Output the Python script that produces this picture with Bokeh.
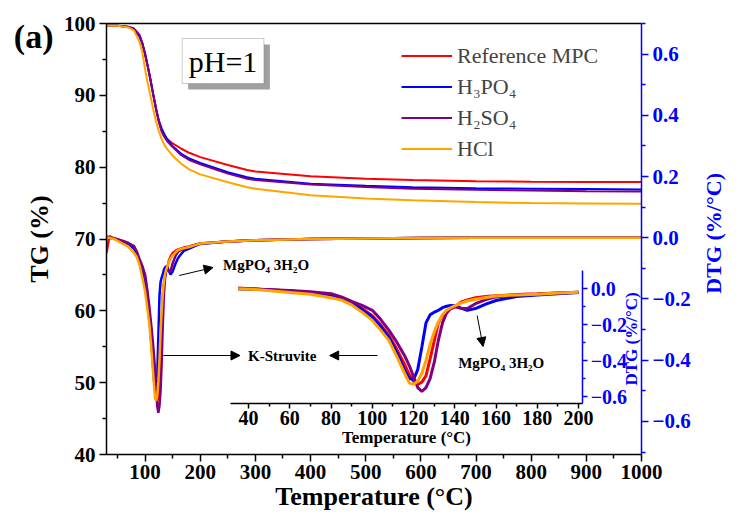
import math
from bokeh.plotting import figure
from bokeh.models import (Range1d, LinearAxis, FixedTicker, Legend, LegendItem, Label,
                          BoxAnnotation, Arrow, NormalHead, CustomJSTickFormatter)
from bokeh.embed import file_html
from bokeh.resources import INLINE

# ---------------- data ----------------
series_names = ["Reference MPC", "H\u2083PO\u2084", "H\u2082SO\u2084", "HCl"]
series_colors = ["#ff0000", "#0000ff", "#800080", "#ffa500"]

tg_temp = [30, 50, 70, 80, 90, 95, 100, 105, 110, 115, 120, 125, 130, 135, 140, 150, 165,
           180, 200, 250, 285, 300, 400, 500, 585, 700, 800, 900, 1000]
tg_ref = [99.7, 99.7, 99.5, 99.2, 98.2, 97.2, 95.8, 94.0, 92.1, 90.0, 88.0, 86.3, 85.0, 84.3,
          83.9, 83.3, 82.6, 82.0, 81.4, 80.3, 79.6, 79.4, 78.75, 78.4, 78.2, 78.05, 77.98, 77.95, 77.95]
tg_h3po4 = [99.7, 99.7, 99.5, 99.2, 98.2, 97.2, 95.8, 94.0, 92.1, 90.0, 88.0, 86.5, 85.4, 84.6,
            83.9, 82.9, 81.9, 81.2, 80.6, 79.3, 78.6, 78.4, 77.7, 77.4, 77.2, 77.05, 77.0, 76.95, 76.9]
tg_h2so4 = [99.7, 99.7, 99.55, 99.3, 98.4, 97.3, 95.6, 93.9, 92.0, 90.0, 88.2, 86.3, 85.0, 84.2,
            83.6, 82.8, 81.7, 81.0, 80.4, 79.1, 78.4, 78.2, 77.6, 77.25, 77.0, 76.85, 76.75, 76.65, 76.6]
tg_hcl = [99.7, 99.7, 99.45, 99.0, 97.4, 96.0, 93.6, 91.6, 89.8, 88.0, 86.3, 85.0, 83.9, 83.1,
          82.5, 81.6, 80.5, 79.7, 79.0, 77.9, 77.2, 77.0, 76.1, 75.65, 75.4, 75.15, 75.0, 74.95, 74.9]

dtg_temp = [30, 35, 45, 60, 70, 80, 85, 90, 95, 100,
            104, 108, 112, 116, 118, 120, 122, 124, 126, 128,
            130, 132, 134, 136, 138, 140, 143, 146, 150, 155,
            160, 170, 180, 190, 200, 250, 300, 400, 500, 600,
            700, 800, 900, 1000]
dtg_ref = [-0.05, 0.005, -0.003, -0.012, -0.02, -0.035, -0.05, -0.075, -0.11, -0.15,
           -0.20, -0.26, -0.34, -0.43, -0.48, -0.515, -0.532, -0.52, -0.485, -0.39,
           -0.29, -0.19, -0.15, -0.125, -0.11, -0.10, -0.075, -0.062, -0.05, -0.043,
           -0.038, -0.032, -0.028, -0.023, -0.019, -0.012, -0.008, -0.004, -0.002, -0.001,
           0.0, 0.0, 0.0, 0.0]
dtg_h3po4 = [0.0, 0.0, -0.003, -0.012, -0.02, -0.035, -0.05, -0.08, -0.115, -0.158,
             -0.21, -0.27, -0.36, -0.463, -0.50, -0.505, -0.45, -0.324, -0.19, -0.145,
             -0.13, -0.12, -0.105, -0.097, -0.093, -0.095, -0.108, -0.12, -0.11, -0.085,
             -0.065, -0.043, -0.035, -0.027, -0.02, -0.012, -0.008, -0.004, -0.002, -0.001,
             0.0, 0.0, 0.0, 0.0]
dtg_h2so4 = [0.005, 0.0, -0.002, -0.01, -0.017, -0.027, -0.045, -0.07, -0.092, -0.12,
             -0.17, -0.23, -0.30, -0.38, -0.43, -0.49, -0.55, -0.572, -0.55, -0.50,
             -0.41, -0.287, -0.19, -0.135, -0.11, -0.10, -0.108, -0.11, -0.083, -0.06,
             -0.045, -0.035, -0.03, -0.024, -0.019, -0.012, -0.008, -0.004, -0.002, -0.001,
             0.0, 0.0, 0.0, 0.0]
dtg_hcl = [0.0, 0.0, -0.005, -0.02, -0.03, -0.05, -0.063, -0.09, -0.13, -0.176,
           -0.23, -0.287, -0.38, -0.48, -0.525, -0.532, -0.515, -0.47, -0.40, -0.31,
           -0.24, -0.186, -0.145, -0.12, -0.105, -0.095, -0.08, -0.068, -0.058, -0.048,
           -0.04, -0.034, -0.03, -0.024, -0.019, -0.012, -0.008, -0.004, -0.002, -0.001,
           0.0, 0.0, 0.0, 0.0]

x_ticks = [100, 200, 300, 400, 500, 600, 700, 800, 900, 1000]
x_minor = [50, 150, 250, 350, 450, 550, 650, 750, 850, 950]
tg_ticks = [40, 50, 60, 70, 80, 90, 100]
tg_minor = [45, 55, 65, 75, 85, 95]
dtg_ticks = [-0.6, -0.4, -0.2, 0.0, 0.2, 0.4, 0.6]
dtg_minor = [-0.7, -0.5, -0.3, -0.1, 0.1, 0.3, 0.5, 0.7]
inset_x_ticks = [40, 60, 80, 100, 120, 140, 160, 180, 200]
inset_x_minor = [50, 70, 90, 110, 130, 150, 170, 190]
inset_y_ticks = [-0.6, -0.4, -0.2, 0.0]
inset_y_minor = [-0.5, -0.3, -0.1]

tg_series = [tg_ref, tg_h3po4, tg_h2so4, tg_hcl]
dtg_series = [dtg_ref, dtg_h3po4, dtg_h2so4, dtg_hcl]

# ---------------- layout (reference pixel geometry) ----------------
W, H = 741, 529
FL, FT, FR, FB = 106, 23, 643, 454          # frame edges (px)
X0, X1 = 30, 1000
Y0, Y1 = 40, 100
D0, D1 = -0.708, 0.70
D_ZERO_PX, D_PPU = 237, 306.7               # main DTG scale (px)

IN_L, IN_R = 230, 584                       # inset x-axis extent (px)
IX0, IX1 = 31, 202                          # inset x data at those px
IN_ZERO = 288.3                             # px of DTG 0 in inset
IN_PPU = 179.6                              # px per DTG unit in inset
IN_BOT_PX, IN_TOP = 403, 0.1

FONT = "Liberation Serif"


def mx(px):
    return X0 + (px - FL) * (X1 - X0) / (FR - FL)


def my(py):
    return Y1 - (py - FT) * (Y1 - Y0) / (FB - FT)


sx_in = (IN_R - IN_L) / (IX1 - IX0)
inx = Range1d(IX0 - (IN_L - FL) / sx_in, IX1 + (FR - IN_R) / sx_in)
iny = Range1d(-(FB - IN_ZERO) / IN_PPU, (IN_ZERO - FT) / IN_PPU)
IN_BOT = -(IN_BOT_PX - IN_ZERO) / IN_PPU

p = figure(width=W, height=H, x_range=Range1d(X0, X1), y_range=Range1d(Y0, Y1),
           output_backend="svg", toolbar_location=None,
           min_border_left=FL, min_border_top=FT,
           min_border_right=W - FR, min_border_bottom=H - FB)
p.extra_y_ranges = {"dtg": Range1d(D0, D1), "iny": iny}
p.extra_x_ranges = {"inx": inx}
p.xgrid.visible = False
p.ygrid.visible = False
p.outline_line_color = None
p.background_fill_color = "white"
p.border_fill_color = "white"

minus_fmt = "return (tick < -1e-9 ? '\u2212' : '') + Math.abs(tick).toFixed(1);"


def style_axis(ax, color, tick_size, label_size, tout=7, mout=4):
    ax.axis_line_color = color
    ax.axis_line_width = 1.5
    ax.major_tick_line_color = color
    ax.minor_tick_line_color = color
    ax.major_tick_line_width = 1.5
    ax.minor_tick_line_width = 1.5
    ax.major_tick_in = 0
    ax.minor_tick_in = 0
    ax.major_tick_out = tout
    ax.minor_tick_out = mout
    ax.major_label_text_font = FONT
    ax.major_label_text_font_style = "bold"
    ax.major_label_text_font_size = tick_size
    ax.major_label_text_color = color
    ax.axis_label_text_font = FONT
    ax.axis_label_text_font_style = "bold"
    ax.axis_label_text_font_size = label_size
    ax.axis_label_text_color = color


def text_tick_axis(text, at, size, color, standoff, orient, yr="default"):
    """A bare axis whose single tick label carries a piece of text."""
    js_text = text.replace("'", "\\'")
    return LinearAxis(y_range_name=yr, ticker=FixedTicker(ticks=[at]),
                      formatter=CustomJSTickFormatter(code="return '%s';" % js_text),
                      axis_line_color=None, major_tick_line_color=None, minor_tick_line_color=None,
                      major_tick_out=0, minor_tick_out=0, major_tick_in=0, minor_tick_in=0,
                      major_label_standoff=standoff, major_label_orientation=orient,
                      major_label_text_font=FONT, major_label_text_font_style="bold",
                      major_label_text_font_size=size, major_label_text_color=color)


xa = p.xaxis[0]
xa.ticker = FixedTicker(ticks=x_ticks, minor_ticks=x_minor)
xa.axis_label = "Temperature (\u00b0C)"
style_axis(xa, "black", "21px", "26px")
xa.major_label_standoff = 3
xa.axis_label_standoff = 0

ya = p.yaxis[0]
ya.ticker = FixedTicker(ticks=tg_ticks, minor_ticks=tg_minor)
ya.axis_label = "TG (%)"
style_axis(ya, "black", "21px", "26px")
ya.major_label_standoff = 4
ya.axis_label_standoff = 7

top = LinearAxis(ticker=FixedTicker(ticks=[]), axis_line_color="black", axis_line_width=1.5,
                 major_tick_out=0, minor_tick_out=0, major_tick_in=0, minor_tick_in=0)
p.add_layout(top, "above")

ra = LinearAxis(y_range_name="dtg", ticker=FixedTicker(ticks=dtg_ticks, minor_ticks=dtg_minor),
                formatter=CustomJSTickFormatter(code=minus_fmt))
style_axis(ra, "#0000ff", "21px", "22px")
ra.major_label_standoff = 4
p.add_layout(ra, "right")

# rotated DTG title of the main axis (reads bottom to top), text starts at py 293
d_start = (D_ZERO_PX - 293) / D_PPU
p.add_layout(text_tick_axis("DTG (%/\u00b0C)", d_start, "22px", "#0000ff", 20, math.pi / 2,
                            yr="dtg"), "right")

# "(a)" panel tag, outside the TG axis
p.add_layout(text_tick_axis("(a)", my(36), "34px", "black", -32, "horizontal"), "left")

# ---------------- main curves ----------------
tg_renderers = []
for name, col, tg in zip(series_names, series_colors, tg_series):
    r = p.line(tg_temp, tg, line_color=col, line_width=2)
    tg_renderers.append(r)
for col, d in zip(series_colors, dtg_series):
    p.line(dtg_temp, d, line_color=col, line_width=2.5, y_range_name="dtg")

# ---------------- inset ----------------
for col, d in zip(series_colors, dtg_series):
    xs = [t for t in dtg_temp if 35 <= t <= IX1]
    ys = [v for t, v in zip(dtg_temp, d) if 35 <= t <= IX1]
    p.line(xs, ys, line_color=col, line_width=3, x_range_name="inx", y_range_name="iny")

ib = LinearAxis(x_range_name="inx", y_range_name="iny", fixed_location=IN_BOT,
                bounds=(IX0, IX1), ticker=FixedTicker(ticks=inset_x_ticks, minor_ticks=inset_x_minor))
style_axis(ib, "black", "20px", "17px", tout=5, mout=3)
ib.axis_label = "Temperature (\u00b0C)"
ib.major_label_standoff = 2
ib.axis_label_standoff = 0
p.add_layout(ib, "below")

ir = LinearAxis(x_range_name="inx", y_range_name="iny", fixed_location=IX1,
                bounds=(IN_BOT, IN_TOP), ticker=FixedTicker(ticks=inset_y_ticks, minor_ticks=inset_y_minor),
                formatter=CustomJSTickFormatter(code=minus_fmt))
style_axis(ir, "#0000ff", "20px", "17px", tout=5, mout=3)
ir.major_label_standoff = 3
p.add_layout(ir, "right")

# inset DTG title: bare fixed axis inside the frame
in_start = -(385 - IN_ZERO) / IN_PPU
in_title = LinearAxis(x_range_name="inx", y_range_name="iny", fixed_location=IX1,
                      bounds=(in_start - 0.03, in_start + 0.03), ticker=FixedTicker(ticks=[]),
                      axis_line_color=None, major_tick_line_color=None, minor_tick_line_color=None,
                      major_tick_out=0, minor_tick_out=0, major_tick_in=0, minor_tick_in=0,
                      axis_label="DTG (%/\u00b0C)", axis_label_standoff=633 - IN_R,
                      axis_label_text_font=FONT, axis_label_text_font_style="bold",
                      axis_label_text_font_size="17px", axis_label_text_color="#0000ff")
in_title.axis_label_orientation = math.pi / 2
p.add_layout(in_title, "right")

# ---------------- legend ----------------
legend = Legend(items=[LegendItem(label=n, renderers=[r]) for n, r in zip(series_names, tg_renderers)],
                location=(401 - FL, FB - 164), border_line_color=None, background_fill_alpha=0,
                label_text_font=FONT, label_text_font_size="22px", glyph_width=51, glyph_height=31,
                label_height=31, label_standoff=5, spacing=0, padding=0, margin=0)
p.add_layout(legend)

# ---------------- annotations ----------------
p.add_layout(BoxAnnotation(left=mx(188), right=mx(270), top=my(44), bottom=my(89),
                           fill_color="#a0a0a0", fill_alpha=1, line_color=None))
p.add_layout(BoxAnnotation(left=mx(182), right=mx(264), top=my(38), bottom=my(83),
                           fill_color="white", fill_alpha=1, line_color="#555555", line_width=1))
p.add_layout(Label(x=mx(223), y=my(61), text="pH=1", text_align="center", text_baseline="middle",
                   text_font=FONT, text_font_size="30px", text_color="black"))


def note(px, py, txt):
    p.add_layout(Label(x=mx(px), y=my(py), text=txt, text_align="left", text_baseline="middle",
                       text_font=FONT, text_font_style="bold", text_font_size="15px", text_color="black"))


def arrow(x0, y0, x1, y1):
    p.add_layout(Arrow(end=NormalHead(size=9, fill_color="black", line_color="black"),
                       x_start=mx(x0), y_start=my(y0), x_end=mx(x1), y_end=my(y1),
                       line_color="black", line_width=1))


note(223, 264, "MgPO\u2084 3H\u2082O")
note(248, 355, "K-Struvite")
note(459, 362, "MgPO\u2084 3H\u2082O")
arrow(179, 275, 213, 267)
arrow(163, 355, 240, 355)
arrow(378, 355, 330, 355)
arrow(478, 315, 484, 346)

open("out.html", "w").write(file_html(p, INLINE))
